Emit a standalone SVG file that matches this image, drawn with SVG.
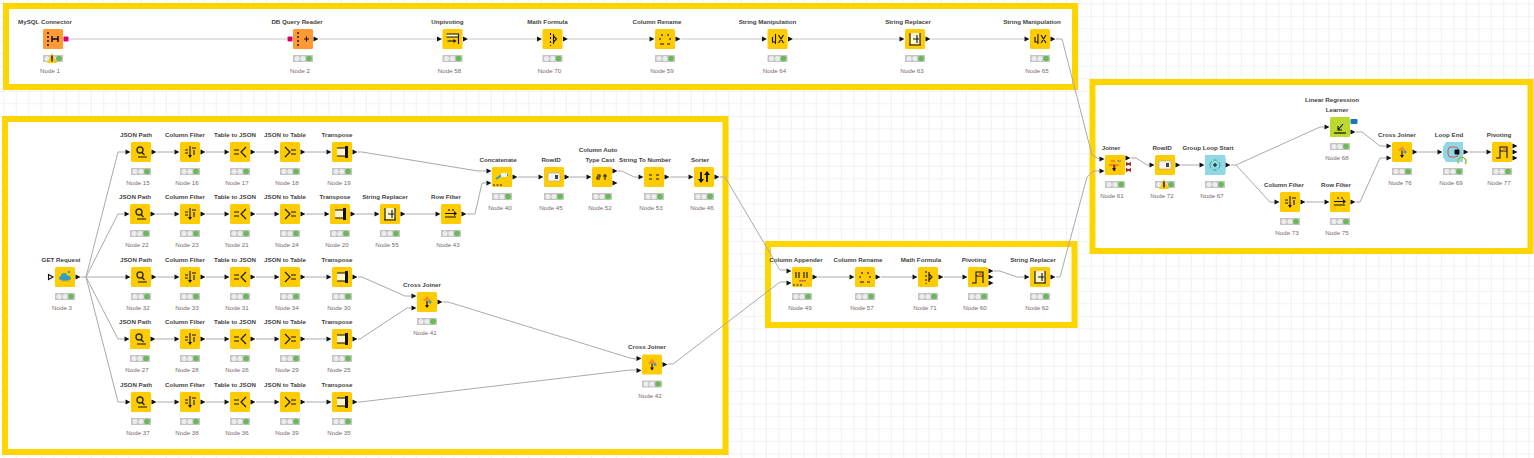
<svg xmlns="http://www.w3.org/2000/svg" width="1534" height="458" viewBox="0 0 1534 458">
<style>
.fr{fill:#fff;stroke:#ffd500;stroke-width:6}
.nat{fill:#ffcc00}.db{fill:#ff9933}.lrn{fill:#bcd92e}.lp{fill:#8fd8e8}
.t{font:bold 6.2px "Liberation Sans",Arial,sans-serif;fill:#444;text-anchor:middle;transform:translateX(-5px)}
.n{font:6.2px "Liberation Sans",Arial,sans-serif;fill:#7a6a6a;text-anchor:middle;transform:translateX(-3px)}
.c{fill:none;stroke:#aaa;stroke-width:1}
.cdb{fill:none;stroke:#dadada;stroke-width:1.3}
.k{fill:#111}.ks{fill:none;stroke:#111;stroke-width:1.1}
</style>
<defs>
<pattern id="grid" width="12.5" height="12.5" patternUnits="userSpaceOnUse" patternTransform="translate(3.3,3.3)"><path d="M0 0V12.5M0 0H12.5" fill="none" stroke="#eee" stroke-width="1.6"/></pattern>
<polygon id="po" class="k" points="10.5,-2.4 15.5,0 10.5,2.4"/>
<polygon id="pi" class="k" points="-15.5,-2.4 -10.5,0 -15.5,2.4"/>
<g id="tl"><rect x="-10" y="16" width="20" height="7" fill="#c4c4c4"/><circle cx="-6" cy="19.5" r="2.6" fill="#ececec"/><circle cx="0" cy="19.5" r="2.6" fill="#ececec"/><circle cx="6" cy="19.5" r="2.8" fill="#66bb55"/></g>
<g id="warn"><polygon points="-1,14 4,24 -6,24" fill="#ffcc00"/><rect x="-1.700" y="16.500" width="1.400" height="6" class="k"/></g>
<rect id="sq" x="-10" y="-10" width="20" height="20" rx="1.5" class="nat"/>
<g id="i-path"><circle cx="-1" cy="-2" r="3" fill="none" stroke="#332" stroke-width="1.400"/><path d="M1 .5L3.500 3M-3 5H6" class="ks"/></g>
<g id="i-cf"><path d="M0-6V5M-5-2H-2M-5 1H-2M4-2V3M2-4H6" class="ks"/><polygon class="k" points="-2,3 2,3 0,6"/></g>
<g id="i-t2j"><path d="M-6-2H-1M-6 2H-1M6-5L1 0L6 5" class="ks"/></g>
<g id="i-j2t"><path d="M-5-5L0 0L-5 5M1-2H6M1 2H6" class="ks"/></g>
<g id="i-tr"><rect x="-5" y="-4" width="8" height="8" fill="#fff6d0"/><path d="M-5-4H3M-5 4H3" class="ks"/><rect x="3" y="-6" width="3" height="12" class="k"/></g>
<g id="i-sr"><rect x="-5" y="-6" width="10" height="11" fill="#fff6d0"/><path d="M-6 6H6M-5-6V6M5-6V6M2-4V4M-2 0H4" class="ks"/></g>
<g id="i-sm"><path d="M-5-2V3H-2M-2-5V5M1-4L6 4M6-4L1 4" class="ks"/></g>
<g id="i-rf"><path d="M-6-.5H4M-6 3H5M-2-5V-3M2-5V-3" class="ks"/><polygon class="k" points="3,-3 6,-.5 3,2"/></g>
<g id="i-cj"><polygon points="0,-6 -4,-1 4,-1" fill="#f09030"/><circle cx="3" cy="0" r="1.500" fill="#30a0d0"/><path d="M0-1V5" class="ks"/><polygon class="k" points="-2,3 2,3 0,6"/></g>
<g id="i-rid"><rect x="-6" y="-4" width="12" height="8" fill="#f4f4f4" stroke="#999" stroke-width=".5"/><rect x="1" y="-2" width="3" height="4" fill="#445"/></g>
<g id="i-sort"><path d="M-3-5V5M3-5V5" stroke="#111" stroke-width="1.800"/><polygon class="k" points="-6,2 0,2 -3,6"/><polygon class="k" points="0,-2 6,-2 3,-6"/></g>
<g id="i-s2n"><path d="M-5-2H-2M-5 2H-2M2-2H5M2 2H5" class="ks"/></g>
<g id="i-cast"><path d="M-5-2H-2V0H-5V2H-2M3-3V3M1-1H5" class="ks"/></g>
<g id="i-ren"><path d="M-5 5H-1M2 5H5M-3-5V-3M3-5V-3M-5-1V1M5-1V1" class="ks"/></g>
<g id="i-math"><path d="M-2-6V-4M-2-2V0M-2 2V4M-2 6V7" class="ks"/><path d="M1-3L4 0L1 3M1-5V5" class="ks"/></g>
<g id="i-piv"><path d="M-6 6H-2V-5H5V6M-2-1H5" class="ks"/><rect x="1" y="-4" width="3" height="3" fill="#e08030"/></g>
<g id="i-unp"><rect x="-6" y="-5" width="12" height="3" fill="#fff6d0"/><path d="M-6-5H6V5M-6-2H6" class="ks"/><path d="M-5 2H2" class="ks"/><polygon class="k" points="1,0 4,2 1,4"/></g>
<g id="i-cat"><path d="M-6 2L0-2H6" stroke="#2e9fc5" stroke-width="2" fill="none"/><rect x="-1" y="-4" width="6" height="4" fill="#e8f4f8"/><path d="M-9 8H-7M-5.500 8H-3.500M-2 8H0" class="ks"/></g>
<g id="i-app"><path d="M-6-5V1M-3-5V1M2-5V1M5-5V1" class="ks"/><rect x="-3" y="3" width="7" height="1.500" fill="#c66"/><path d="M-9 8H-7M-5.500 8H-3.500M-2 8H0" class="ks"/></g>
<g id="i-join"><path d="M-4-4H0M-6 0H4M0 0V6" stroke="#e44" stroke-width="1" fill="none"/><path d="M-1 0V6" class="ks"/><path d="M2-4H6" stroke="#38c" stroke-width="1"/><polygon class="k" points="-3,3 1,3 -1,6"/></g>
<g id="i-mysql"><path d="M-5-7V-5M-5-3V-1M-5 1V3M-5 5V7" stroke="#111" stroke-width="1.400"/><path d="M-1-3V3M5-3V3M-1 0H5" stroke="#111" stroke-width="1.500"/></g>
<g id="i-dbq"><path d="M-5-7V-5M-5-3V-1M-5 1V3M-5 5V7" stroke="#111" stroke-width="1.400"/><path d="M1 0H6M3.500-2.500V2.500" class="ks"/></g>
<g id="i-get"><ellipse cx="0" cy="1" rx="6" ry="3" fill="#2e9fc5"/><circle cx="-1" cy="-1" r="3" fill="#2e9fc5"/><circle cx="4" cy="-5" r="1.200" fill="#2e9fc5"/><path d="M-4 4H5" stroke="#e8a020"/></g>
<g id="i-lr"><path d="M-6 6H6" stroke="#111" stroke-width="1.200"/><path d="M-2 3L3-3M-2-1V3H2" class="ks"/></g>
<g id="i-gl"><path d="M-5 0A5 5 0 0 1 5 0M5 0A5 5 0 0 1-5 0" fill="none" stroke="#3cab6b" stroke-dasharray="4 2"/><path d="M-2 0H2M0-2V2" class="ks"/></g>
<g id="i-le"><rect x="-5" y="-5" width="10" height="10" rx="3" fill="none" stroke="#e05050"/><rect x="1.500" y="-2.500" width="5" height="5" rx="1" class="k"/></g>
<g id="nodebase"><use href="#sq"/><use href="#tl"/></g>
</defs>
<rect width="1534" height="458" fill="#fff"/>
<rect width="1534" height="458" fill="url(#grid)"/>
<g id="frames">
<rect class="fr" x="6" y="6" width="1069" height="81"/>
<rect class="fr" x="5" y="119" width="720.500" height="333"/>
<rect class="fr" x="768" y="244" width="306.500" height="81"/>
<rect class="fr" x="1092.500" y="82" width="438" height="169"/>
</g>
<g id="connectors">
<path class="cdb" d="M69 39H287M319 39H437M468 39H537M568 39H649M681 39H762M793 39H899M931 39H1024"/>
<path class="c" d="M1056 39H1062L1092 155L1099 159"/>
<path class="c" d="M1056 277H1060L1087 177L1094 171H1099"/>
<path class="c" d="M157 152H174M206 152H224M256 152H274M306 152H326"/>
<path class="c" d="M156 214H174M206 214H224M256 214H274M306 214H324M356 214H374M406 214H435"/>
<path class="c" d="M157 277H174M206 277H224M256 277H274M306 277H326"/>
<path class="c" d="M156 339H174M206 339H224M256 339H274M306 339H326"/>
<path class="c" d="M157 402H174M206 402H224M256 402H274M306 402H326"/>
<path class="c" d="M81 277H86L118 152H125M86 277L118 214H124M86 277H125M86 277L118 339H124M86 277L118 402H125"/>
<path class="c" d="M358 152H362L478 171H486"/>
<path class="c" d="M467 214H475L482 183H486"/>
<path class="c" d="M518 177H538M570 177H586M618 171H622L634 177H638M670 177H688"/>
<path class="c" d="M720 177H725L780 270H786"/>
<path class="c" d="M358 277H362L405 296H411"/>
<path class="c" d="M358 339H360L407 308H411"/>
<path class="c" d="M443 302H448L630 358L636 359"/>
<path class="c" d="M358 402H360L630 370H636"/>
<path class="c" d="M668 364H673L780 282H786"/>
<path class="c" d="M818 277H849M881 277H912M944 277H962M994 271H1000L1017 277H1024"/>
<path class="c" d="M1131 158H1136L1147 165H1149M1181 165H1199M1231 165H1236L1320 127H1324M1236 165L1270 202H1274M1306 202H1324M1356 202H1360L1380 158H1386M1356 132H1362L1380 146H1386M1418 152H1437M1469 152H1486"/>
</g>

<g id="node-1" transform="translate(53,39)"><rect x="-10" y="-10" width="20" height="20" rx="1.500" class="db"/><use href="#i-mysql"/><rect x="10.500" y="-2.500" width="5" height="5" rx="1" fill="#d6006e"/><use href="#tl"/><use href="#warn"/><text class="t" x="-3" y="-15.500">MySQL Connector</text><text class="n" y="34">Node 1</text></g>
<g id="node-2" transform="translate(303,39)"><rect x="-10" y="-10" width="20" height="20" rx="1.500" class="db"/><use href="#i-dbq"/><rect x="-15.500" y="-2.500" width="5" height="5" rx="1" fill="#d6006e"/><use href="#po"/><use href="#tl"/><text class="t" x="-1" y="-15.500">DB Query Reader</text><text class="n" y="34">Node 2</text></g>
<g id="node-58" transform="translate(452.500,39)"><use href="#nodebase"/><use href="#i-unp"/><use href="#pi"/><use href="#po"/><text class="t" y="-15.500">Unpivoting</text><text class="n" y="34">Node 58</text></g>
<g id="node-70" transform="translate(552.500,39)"><use href="#nodebase"/><use href="#i-math"/><use href="#pi"/><use href="#po"/><text class="t" y="-15.500">Math Formula</text><text class="n" y="34">Node 70</text></g>
<g id="node-59" transform="translate(665,39)"><use href="#nodebase"/><use href="#i-ren"/><use href="#pi"/><use href="#po"/><text class="t" x="-3" y="-15.500">Column Rename</text><text class="n" y="34">Node 59</text></g>
<g id="node-64" transform="translate(777.500,39)"><use href="#nodebase"/><use href="#i-sm"/><use href="#pi"/><use href="#po"/><text class="t" x="-5" y="-15.500">String Manipulation</text><text class="n" y="34">Node 64</text></g>
<g id="node-63" transform="translate(915,39)"><use href="#nodebase"/><use href="#i-sr"/><use href="#pi"/><use href="#po"/><text class="t" x="-2" y="-15.500">String Replacer</text><text class="n" y="34">Node 63</text></g>
<g id="node-65" transform="translate(1040,39)"><use href="#nodebase"/><use href="#i-sm"/><use href="#pi"/><use href="#po"/><text class="t" x="-3" y="-15.500">String Manipulation</text><text class="n" y="34">Node 65</text></g>

<g id="node-3" transform="translate(65,277)"><use href="#nodebase"/><use href="#i-get"/><polygon points="-16.500,-2.500 -12,0 -16.500,2.500" fill="#fff" stroke="#111" stroke-width="1.100"/><use href="#po"/><text class="t" x="1" y="-15.500">GET Request</text><text class="n" y="33">Node 3</text></g>

<g id="node-15" transform="translate(141,152)"><use href="#nodebase"/><use href="#i-path"/><use href="#pi"/><use href="#po"/><text class="t" y="-15.500">JSON Path</text><text class="n" y="33">Node 15</text></g>
<g id="node-16" transform="translate(190,152)"><use href="#nodebase"/><use href="#i-cf"/><use href="#pi"/><use href="#po"/><text class="t" y="-15.500">Column Filter</text><text class="n" y="33">Node 16</text></g>
<g id="node-17" transform="translate(240,152)"><use href="#nodebase"/><use href="#i-t2j"/><use href="#pi"/><use href="#po"/><text class="t" y="-15.500">Table to JSON</text><text class="n" y="33">Node 17</text></g>
<g id="node-18" transform="translate(290,152)"><use href="#nodebase"/><use href="#i-j2t"/><use href="#pi"/><use href="#po"/><text class="t" y="-15.500">JSON to Table</text><text class="n" y="33">Node 18</text></g>
<g id="node-19" transform="translate(342,152)"><use href="#nodebase"/><use href="#i-tr"/><use href="#pi"/><use href="#po"/><text class="t" y="-15.500">Transpose</text><text class="n" y="33">Node 19</text></g>

<g id="node-22" transform="translate(140,214)"><use href="#nodebase"/><use href="#i-path"/><use href="#pi"/><use href="#po"/><text class="t" y="-15.500">JSON Path</text><text class="n" y="33">Node 22</text></g>
<g id="node-23" transform="translate(190,214)"><use href="#nodebase"/><use href="#i-cf"/><use href="#pi"/><use href="#po"/><text class="t" y="-15.500">Column Filter</text><text class="n" y="33">Node 23</text></g>
<g id="node-21" transform="translate(240,214)"><use href="#nodebase"/><use href="#i-t2j"/><use href="#pi"/><use href="#po"/><text class="t" y="-15.500">Table to JSON</text><text class="n" y="33">Node 21</text></g>
<g id="node-24" transform="translate(290,214)"><use href="#nodebase"/><use href="#i-j2t"/><use href="#pi"/><use href="#po"/><text class="t" y="-15.500">JSON to Table</text><text class="n" y="33">Node 24</text></g>
<g id="node-20" transform="translate(340,214)"><use href="#nodebase"/><use href="#i-tr"/><use href="#pi"/><use href="#po"/><text class="t" y="-15.500">Transpose</text><text class="n" y="33">Node 20</text></g>
<g id="node-55" transform="translate(390,214)"><use href="#nodebase"/><use href="#i-sr"/><use href="#pi"/><use href="#po"/><text class="t" y="-15.500">String Replacer</text><text class="n" y="33">Node 55</text></g>
<g id="node-43" transform="translate(451,214)"><use href="#nodebase"/><use href="#i-rf"/><use href="#pi"/><use href="#po"/><text class="t" y="-15.500">Row Filter</text><text class="n" y="33">Node 43</text></g>

<g id="node-32" transform="translate(141,277)"><use href="#nodebase"/><use href="#i-path"/><use href="#pi"/><use href="#po"/><text class="t" y="-15.500">JSON Path</text><text class="n" y="33">Node 32</text></g>
<g id="node-33" transform="translate(190,277)"><use href="#nodebase"/><use href="#i-cf"/><use href="#pi"/><use href="#po"/><text class="t" y="-15.500">Column Filter</text><text class="n" y="33">Node 33</text></g>
<g id="node-31" transform="translate(240,277)"><use href="#nodebase"/><use href="#i-t2j"/><use href="#pi"/><use href="#po"/><text class="t" y="-15.500">Table to JSON</text><text class="n" y="33">Node 31</text></g>
<g id="node-34" transform="translate(290,277)"><use href="#nodebase"/><use href="#i-j2t"/><use href="#pi"/><use href="#po"/><text class="t" y="-15.500">JSON to Table</text><text class="n" y="33">Node 34</text></g>
<g id="node-30" transform="translate(342,277)"><use href="#nodebase"/><use href="#i-tr"/><use href="#pi"/><use href="#po"/><text class="t" y="-15.500">Transpose</text><text class="n" y="33">Node 30</text></g>

<g id="node-27" transform="translate(140,339)"><use href="#nodebase"/><use href="#i-path"/><use href="#pi"/><use href="#po"/><text class="t" y="-15.500">JSON Path</text><text class="n" y="33">Node 27</text></g>
<g id="node-28" transform="translate(190,339)"><use href="#nodebase"/><use href="#i-cf"/><use href="#pi"/><use href="#po"/><text class="t" y="-15.500">Column Filter</text><text class="n" y="33">Node 28</text></g>
<g id="node-26" transform="translate(240,339)"><use href="#nodebase"/><use href="#i-t2j"/><use href="#pi"/><use href="#po"/><text class="t" y="-15.500">Table to JSON</text><text class="n" y="33">Node 26</text></g>
<g id="node-29" transform="translate(290,339)"><use href="#nodebase"/><use href="#i-j2t"/><use href="#pi"/><use href="#po"/><text class="t" y="-15.500">JSON to Table</text><text class="n" y="33">Node 29</text></g>
<g id="node-25" transform="translate(342,339)"><use href="#nodebase"/><use href="#i-tr"/><use href="#pi"/><use href="#po"/><text class="t" y="-15.500">Transpose</text><text class="n" y="33">Node 25</text></g>

<g id="node-37" transform="translate(141,402)"><use href="#nodebase"/><use href="#i-path"/><use href="#pi"/><use href="#po"/><text class="t" y="-15.500">JSON Path</text><text class="n" y="33">Node 37</text></g>
<g id="node-38" transform="translate(190,402)"><use href="#nodebase"/><use href="#i-cf"/><use href="#pi"/><use href="#po"/><text class="t" y="-15.500">Column Filter</text><text class="n" y="33">Node 38</text></g>
<g id="node-36" transform="translate(240,402)"><use href="#nodebase"/><use href="#i-t2j"/><use href="#pi"/><use href="#po"/><text class="t" y="-15.500">Table to JSON</text><text class="n" y="33">Node 36</text></g>
<g id="node-39" transform="translate(290,402)"><use href="#nodebase"/><use href="#i-j2t"/><use href="#pi"/><use href="#po"/><text class="t" y="-15.500">JSON to Table</text><text class="n" y="33">Node 39</text></g>
<g id="node-35" transform="translate(342,402)"><use href="#nodebase"/><use href="#i-tr"/><use href="#pi"/><use href="#po"/><text class="t" y="-15.500">Transpose</text><text class="n" y="33">Node 35</text></g>

<g id="node-41" transform="translate(427,302)"><use href="#nodebase"/><use href="#i-cj"/><use href="#pi" y="-6"/><use href="#pi" y="6"/><use href="#po"/><text class="t" y="-15.500">Cross Joiner</text><text class="n" x="1" y="33">Node 41</text></g>
<g id="node-42" transform="translate(652,364.500)"><use href="#nodebase"/><use href="#i-cj"/><use href="#pi" y="-6"/><use href="#pi" y="6"/><use href="#po"/><text class="t" y="-15.500">Cross Joiner</text><text class="n" x="1" y="33">Node 42</text></g>

<g id="node-40" transform="translate(502,177)"><use href="#nodebase"/><use href="#i-cat"/><use href="#pi" y="-6"/><use href="#pi" y="6"/><use href="#po"/><text class="t" x="1" y="-15.500">Concatenate</text><text class="n" x="1" y="33">Node 40</text></g>
<g id="node-45" transform="translate(554,177)"><use href="#nodebase"/><use href="#i-rid"/><use href="#pi"/><use href="#po"/><text class="t" x="2" y="-15.500">RowID</text><text class="n" y="33">Node 45</text></g>
<g id="node-52" transform="translate(602,177)"><use href="#nodebase"/><use href="#i-cast"/><use href="#pi"/><use href="#po" y="-6"/><use href="#po" y="6"/><text class="t" x="1" y="-25.500">Column Auto</text><text class="t" x="3" y="-15.500">Type Cast</text><text class="n" x="1" y="33">Node 52</text></g>
<g id="node-53" transform="translate(654,177)"><use href="#nodebase"/><use href="#i-s2n"/><use href="#pi"/><use href="#po"/><text class="t" x="-4" y="-15.500">String To Number</text><text class="n" y="33">Node 53</text></g>
<g id="node-46" transform="translate(704,177)"><use href="#nodebase"/><use href="#i-sort"/><use href="#pi"/><use href="#po"/><text class="t" x="1" y="-15.500">Sorter</text><text class="n" x="1" y="33">Node 46</text></g>

<g id="node-49" transform="translate(802,277)"><use href="#nodebase"/><use href="#i-app"/><use href="#pi" y="-6"/><use href="#pi" y="6"/><use href="#po"/><text class="t" x="-1" y="-15.500">Column Appender</text><text class="n" x="1" y="33">Node 49</text></g>
<g id="node-57" transform="translate(865,277)"><use href="#nodebase"/><use href="#i-ren"/><use href="#pi"/><use href="#po"/><text class="t" x="-2" y="-15.500">Column Rename</text><text class="n" y="33">Node 57</text></g>
<g id="node-71" transform="translate(928,277)"><use href="#nodebase"/><use href="#i-math"/><use href="#pi"/><use href="#po"/><text class="t" x="-2" y="-15.500">Math Formula</text><text class="n" y="33">Node 71</text></g>
<g id="node-60" transform="translate(978,277)"><use href="#nodebase"/><use href="#i-piv"/><use href="#pi"/><use href="#po" y="-6"/><use href="#po"/><use href="#po" y="6"/><text class="t" x="1" y="-15.500">Pivoting</text><text class="n" y="33">Node 60</text></g>
<g id="node-62" transform="translate(1040,277)"><use href="#nodebase"/><use href="#i-sr"/><use href="#pi"/><use href="#po"/><text class="t" x="-2" y="-15.500">String Replacer</text><text class="n" y="33">Node 62</text></g>

<g id="node-61" transform="translate(1115,165)"><use href="#nodebase"/><use href="#i-join"/><use href="#pi" y="-6"/><use href="#pi" y="6"/><use href="#po" y="-7"/><path d="M11-1H16M11 5H16" stroke="#111" stroke-width="1.500"/><path d="M11-3L16 1M16-3L11 1M11 3L16 7M16 3L11 7" stroke="#d22" stroke-width="1"/><text class="t" x="1" y="-15.500">Joiner</text><text class="n" y="33">Node 61</text></g>
<g id="node-72" transform="translate(1165,165)"><use href="#nodebase"/><use href="#i-rid"/><use href="#pi"/><use href="#po"/><use href="#warn"/><text class="t" x="2" y="-15.500">RowID</text><text class="n" y="33">Node 72</text></g>
<g id="node-67" transform="translate(1215,165)"><polygon class="lp" points="-10,-10 10,-10 11,-5 10,0 11,5 10,10 -10,10"/><use href="#tl"/><use href="#i-gl"/><use href="#pi"/><use href="#po"/><text class="t" x="-2" y="-15.500">Group Loop Start</text><text class="n" y="33">Node 67</text></g>
<g id="node-68" transform="translate(1340,127)"><rect x="-10" y="-10" width="20" height="20" rx="1.500" class="lrn"/><use href="#i-lr"/><rect x="10.500" y="-8" width="7" height="5" rx="1" fill="#1b75bb"/><use href="#pi"/><use href="#po" y="5"/><use href="#tl"/><text class="t" x="-3" y="-25.500">Linear Regression</text><text class="t" x="2" y="-15.500">Learner</text><text class="n" y="33">Node 68</text></g>
<g id="node-76" transform="translate(1402,152)"><use href="#nodebase"/><use href="#i-cj"/><use href="#pi" y="-6"/><use href="#pi" y="6"/><use href="#po"/><text class="t" y="-15.500">Cross Joiner</text><text class="n" x="1" y="33">Node 76</text></g>
<g id="node-69" transform="translate(1453,152)"><polygon class="lp" points="-7,-10 10,-10 10,10 -7,10 -10,5 -10,-5"/><use href="#tl"/><use href="#i-le"/><use href="#pi"/><use href="#po"/><path d="M5.500 11.500A4 4 0 1 1 12 12" fill="none" stroke="#9ac030" stroke-width="1.400"/><text class="t" x="1" y="-15.500">Loop End</text><text class="n" x="1" y="33">Node 69</text></g>
<g id="node-77" transform="translate(1502,152)"><use href="#nodebase"/><use href="#i-piv"/><use href="#pi"/><use href="#po" y="-6"/><use href="#po"/><use href="#po" y="6"/><text class="t" x="2" y="-15.500">Pivoting</text><text class="n" y="33">Node 77</text></g>
<g id="node-73" transform="translate(1290,202)"><use href="#nodebase"/><use href="#i-cf"/><use href="#pi"/><use href="#po"/><text class="t" x="-1" y="-15.500">Column Filter</text><text class="n" y="33">Node 73</text></g>
<g id="node-75" transform="translate(1340,202)"><use href="#nodebase"/><use href="#i-rf"/><use href="#pi"/><use href="#po"/><text class="t" x="1" y="-15.500">Row Filter</text><text class="n" y="33">Node 75</text></g>
</svg>
